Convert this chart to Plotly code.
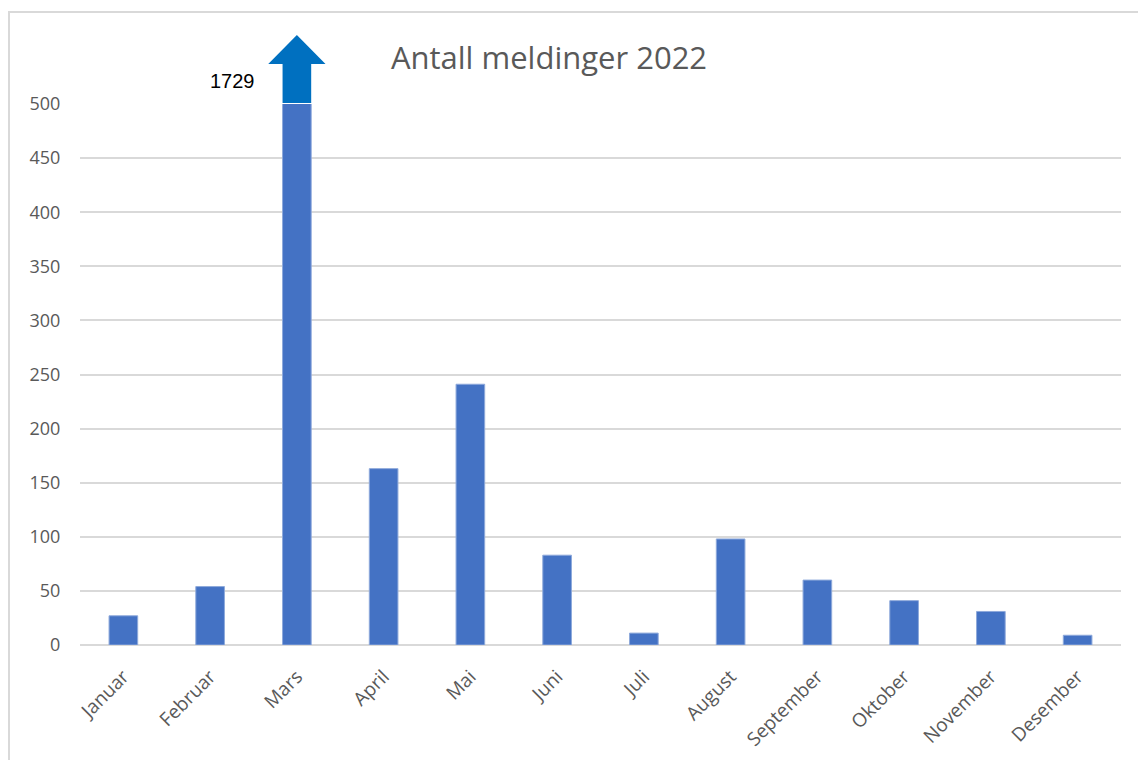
import plotly.graph_objects as go

months = ["Januar", "Februar", "Mars", "April", "Mai", "Juni", "Juli",
          "August", "September", "Oktober", "November", "Desember"]
counts = [27, 54, 1729, 163, 241, 83, 11, 98, 60, 41, 31, 9]
y_cap = 500
y_ticks = [0, 50, 100, 150, 200, 250, 300, 350, 400, 450, 500]
title_text = "Antall meldinger 2022"

# page body has an 8px margin: figure origin sits at (8, 8) in the window
OFF = 8
W, H = 1146 - OFF, 760 - OFF
L, R, T, B = 80 - OFF, 25, 104 - OFF, 115
pw, ph = W - L - R, H - T - B
bargap = 0.67

def px_y(p):  # window pixel y -> paper y
    return (H - B - (p - OFF)) / ph

def px_x(p):  # window pixel x -> paper x
    return (p - OFF - L) / pw

fig = go.Figure()
fig.add_trace(go.Bar(
    x=months, y=counts,
    marker=dict(color="#4472C4", line=dict(color="#8EA9DB", width=1)),
    hoverinfo="x+y",
))

# arrow above the capped bar (largest value)
idx = counts.index(max(counts))
n = len(months)
xc = (idx + 0.5) / n
shaft_hw = (1 - bargap) / 2 / n
head_hw = shaft_hw * 2
y_base, y_head, y_tip = px_y(103), px_y(64), px_y(35)
path = (f"M{xc - shaft_hw},{y_base} L{xc - shaft_hw},{y_head} L{xc - head_hw},{y_head} "
        f"L{xc},{y_tip} L{xc + head_hw},{y_head} L{xc + shaft_hw},{y_head} "
        f"L{xc + shaft_hw},{y_base} Z")
fig.add_shape(type="path", path=path, xref="paper", yref="paper",
              fillcolor="#0070C0", line=dict(width=0))

fig.add_annotation(x=months[idx], y=px_y(81), xref="x", yref="paper",
                   text=str(counts[idx]), showarrow=False, xanchor="right", yanchor="middle",
                   xshift=-40, font=dict(family="Liberation Sans, Arial", size=20, color="#000000"))

# outer chart frame
fig.add_shape(type="rect", xref="paper", yref="paper",
              x0=px_x(9), x1=px_x(1160), y0=px_y(780), y1=px_y(12),
              line=dict(color="#D9D9D9", width=2), fillcolor="rgba(0,0,0,0)", layer="below")

fig.update_layout(
    width=W, height=H,
    margin=dict(l=L, r=R, t=T, b=B, autoexpand=False),
    paper_bgcolor="white", plot_bgcolor="white",
    bargap=bargap,
    showlegend=False,
    title=dict(text=title_text, x=px_x(549), xref="paper", xanchor="center",
               y=1 - (58 - OFF) / H, yanchor="middle",
               font=dict(family="Open Sans", size=31, color="#595959")),
    xaxis=dict(tickangle=-45, tickfont=dict(family="Open Sans", size=19, color="#595959"),
               showgrid=False, showline=False, automargin=False,
               ticks="outside", ticklen=12, tickcolor="rgba(0,0,0,0)"),
    yaxis=dict(range=[0, y_cap], tickvals=y_ticks, showgrid=True, gridcolor="#D9D9D9",
               gridwidth=1.5, zeroline=True, zerolinecolor="#D9D9D9", zerolinewidth=1.5,
               automargin=False,
               ticks="outside", ticklen=15, tickcolor="rgba(0,0,0,0)",
               tickfont=dict(family="Open Sans", size=18, color="#595959")),
)

fig.write_html("out.html")
